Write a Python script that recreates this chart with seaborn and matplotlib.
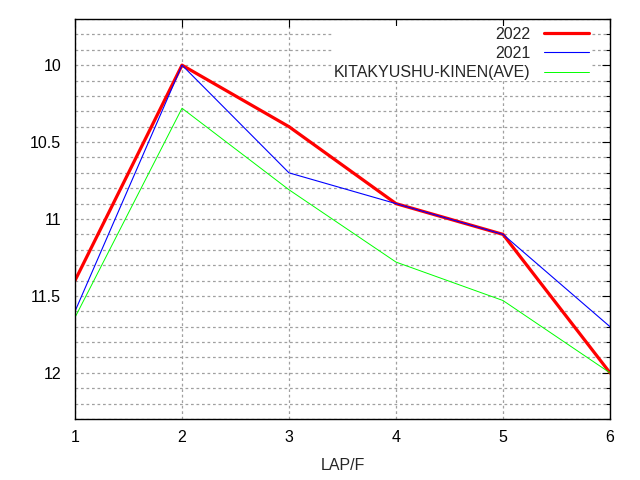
import numpy as np
import pandas as pd
import matplotlib
matplotlib.use("Agg")
import matplotlib.pyplot as plt
import seaborn as sns
from matplotlib.ticker import MultipleLocator

laps = [1, 2, 3, 4, 5, 6]
lap_2022 = [11.4, 10.0, 10.4, 10.9, 11.1, 12.0]
lap_2021 = [11.6, 10.0, 10.7, 10.9, 11.1, 11.7]
lap_ave = [11.64, 10.28, 10.81, 11.28, 11.53, 12.0]

series_names = ["2022", "2021", "KITAKYUSHU-KINEN(AVE)"]
series_colors = ["#ff0000", "#0000ff", "#00ff00"]
series_widths = [2.3, 0.8, 0.7]

sns.set_style("white")
plt.rcParams["font.family"] = ["Liberation Sans", "DejaVu Sans"]
fs = 11.5

fig = plt.figure(figsize=(6.4, 4.8), dpi=100)
ax = fig.add_axes([75 / 640, 1 - 419 / 480, 535 / 640, 400 / 480])

for name, vals, c, lw in zip(series_names, [lap_2022, lap_2021, lap_ave],
                             series_colors, series_widths):
    df = pd.DataFrame({"lap": laps, "time": vals})
    sns.lineplot(data=df, x="lap", y="time", color=c, linewidth=lw,
                 label=name, ax=ax)

ax.set_xlim(1, 6)
ax.set_ylim(12.3, 9.7)
ax.xaxis.set_major_locator(MultipleLocator(1))
ax.yaxis.set_major_locator(MultipleLocator(0.5))
ax.yaxis.set_minor_locator(MultipleLocator(0.1))
ax.yaxis.set_major_formatter(plt.FuncFormatter(lambda v, p: f"{v:g}"))

grid_kw = dict(color="#a0a0a0", linestyle=(0, (2.2, 2.2)), linewidth=0.9)
ax.grid(True, which="major", axis="both", **grid_kw)
ax.grid(True, which="minor", axis="y", **grid_kw)

ax.tick_params(axis="both", which="both", direction="in", top=True, right=True,
               labelsize=fs, colors="black")
ax.tick_params(axis="both", which="major", length=6, width=0.8)
ax.tick_params(axis="y", which="minor", length=3, width=0.8)
ax.tick_params(axis="x", which="major", pad=8)
ax.tick_params(axis="y", which="major", pad=10)

for s in ax.spines.values():
    s.set_color("black")
    s.set_linewidth(1.0)

ax.set_xlabel("LAP/F", fontsize=fs, labelpad=9)
ax.set_ylabel("")

leg = ax.legend(loc="upper right", markerfirst=False, frameon=True,
                fontsize=fs, handlelength=2.85, handletextpad=0.85,
                labelspacing=0.27, borderpad=0.05,
                bbox_to_anchor=(0.978, 1.003))
leg.get_frame().set_facecolor("white")
leg.get_frame().set_edgecolor("none")
leg.get_frame().set_alpha(1.0)
for t in leg.get_texts():
    t.set_ha("right")

fig.savefig("out.png", dpi=100)
